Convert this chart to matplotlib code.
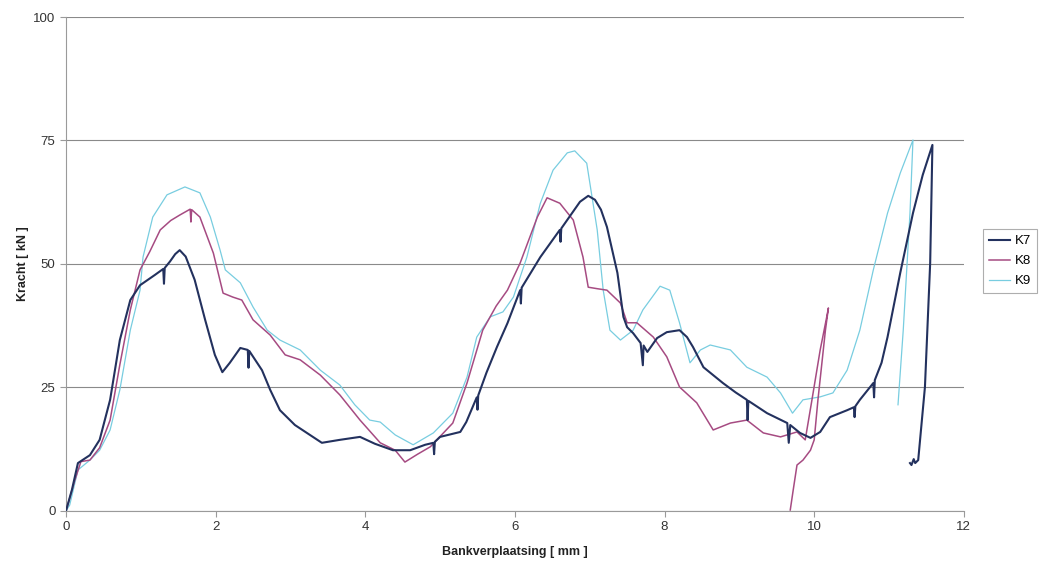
import matplotlib
matplotlib.use("Agg")
import matplotlib.pyplot as plt

# ---- data ----
k7_x = [0, 0.08, 0.16, 0.32, 0.45, 0.59, 0.72, 0.86, 0.99, 1.19, 1.30, 1.31, 1.32, 1.39, 1.46, 1.52,
        1.60, 1.72, 1.86, 1.99, 2.09, 2.19, 2.33, 2.43, 2.44, 2.45, 2.62, 2.73, 2.86, 3.06, 3.26,
        3.42, 3.66, 3.93, 4.13, 4.37, 4.60, 4.80, 4.91, 4.92, 4.93, 5.00, 5.27, 5.35, 5.49, 5.50,
        5.51, 5.62, 5.76, 5.90, 6.07, 6.08, 6.09, 6.34, 6.60, 6.61, 6.62, 6.87, 6.98, 7.07, 7.15,
        7.23, 7.37, 7.45, 7.50, 7.58, 7.68, 7.71, 7.72, 7.77, 7.90, 8.03, 8.20, 8.30, 8.38, 8.52,
        8.65, 8.78, 8.95, 9.10, 9.11, 9.12, 9.37, 9.64, 9.66, 9.68, 9.81, 9.95, 10.08, 10.21, 10.44,
        10.53, 10.54, 10.55, 10.61, 10.79, 10.80, 10.81, 10.90, 10.98, 11.15, 11.32, 11.45, 11.58,
        11.55, 11.48, 11.39, 11.35, 11.33, 11.30, 11.28]
k7_y = [0, 4.3, 9.7, 11.3, 14.4, 22.5, 34.6, 42.7, 45.7, 47.8, 49.0, 46.0, 49.2, 50.5, 52.0, 52.8,
        51.5, 46.8, 38.7, 31.6, 28.1, 30.0, 33.0, 32.6, 29.0, 32.4, 28.5, 24.5, 20.4, 17.4, 15.4,
        13.8, 14.4, 15.0, 13.6, 12.3, 12.3, 13.4, 13.8, 11.5, 14.0, 15.0, 16.0, 18.0, 23.0, 20.5,
        23.4, 28.0, 33.2, 38.0, 44.7, 42.0, 45.2, 51.4, 56.9, 54.5, 57.2, 62.6, 63.8, 63.0, 61.0,
        57.5, 48.2, 39.3, 37.2, 36.0, 34.0, 29.5, 33.5, 32.2, 35.0, 36.2, 36.6, 35.2, 33.2, 29.1,
        27.5, 25.9, 24.0, 22.5, 18.4, 22.3, 19.8, 17.8, 13.8, 17.4, 15.8, 14.8, 16.0, 19.0, 20.4,
        21.0, 19.0, 21.2, 22.5, 25.9, 23.0, 26.5, 30.0, 35.2, 48.2, 60.3, 68.0, 74.1,
        50.2, 25.1, 10.3, 9.7, 10.5, 9.3, 9.7]

k8_x = [0, 0.12, 0.20, 0.32, 0.45, 0.59, 0.72, 0.86, 0.99, 1.12, 1.26, 1.40, 1.52, 1.66, 1.67,
        1.68, 1.79, 1.97, 2.10, 2.23, 2.35, 2.50, 2.73, 2.93, 3.13, 3.40, 3.66, 3.93, 4.20, 4.40,
        4.53, 4.70, 4.87, 5.17, 5.36, 5.57, 5.75, 5.90, 6.07, 6.30, 6.43, 6.60, 6.78, 6.91, 6.98,
        7.10, 7.23, 7.41, 7.50, 7.63, 7.85, 8.03, 8.20, 8.43, 8.65, 8.88, 9.10, 9.32, 9.55, 9.77,
        9.88, 9.97, 10.08, 10.16, 10.19, 10.15, 10.05, 10.00, 9.95, 9.85, 9.77, 9.72, 9.68]
k8_y = [0, 6.3, 10.0, 10.3, 12.8, 18.4, 29.6, 40.7, 48.8, 52.5, 56.9, 58.8, 59.9, 61.1, 58.5,
        61.0, 59.5, 52.2, 44.1, 43.3, 42.7, 38.7, 35.6, 31.6, 30.6, 27.5, 23.5, 18.4, 13.8, 12.3,
        9.9, 11.5, 13.0, 17.8, 25.9, 36.6, 41.5, 44.7, 50.2, 59.5, 63.4, 62.3, 58.9, 51.4, 45.3,
        45.0, 44.7, 42.1, 38.1, 38.1, 35.2, 31.2, 25.1, 21.9, 16.4, 17.8, 18.4, 15.8, 15.0, 16.0,
        14.4, 22.5, 32.6, 38.7, 41.1, 36.6, 22.5, 14.4, 12.3, 10.3, 9.3, 4.3, 0.2]

k9_x = [0, 0.05, 0.16, 0.32, 0.45, 0.59, 0.72, 0.86, 0.99, 1.03, 1.16, 1.35, 1.59, 1.79, 1.93,
        2.06, 2.13, 2.33, 2.50, 2.69, 2.86, 3.13, 3.40, 3.66, 3.86, 4.06, 4.20, 4.40, 4.64, 4.91,
        5.17, 5.36, 5.49, 5.67, 5.84, 5.98, 6.16, 6.34, 6.51, 6.70, 6.80, 6.96, 7.10, 7.18, 7.27,
        7.41, 7.58, 7.71, 7.94, 8.07, 8.20, 8.34, 8.48, 8.61, 8.88, 9.10, 9.37, 9.55, 9.71, 9.85,
        10.08, 10.25, 10.44, 10.61, 10.79, 10.98, 11.15, 11.32, 11.28, 11.19, 11.12]
k9_y = [0, 1.2, 8.3, 10.3, 12.3, 16.4, 24.5, 36.6, 44.7, 51.4, 59.5, 64.0, 65.6, 64.4, 59.5,
        52.8, 48.8, 46.2, 41.3, 36.6, 34.6, 32.6, 28.5, 25.5, 21.5, 18.4, 18.0, 15.4, 13.4, 15.8,
        19.8, 27.1, 35.2, 39.3, 40.3, 43.3, 51.4, 62.3, 69.0, 72.5, 72.9, 70.4, 56.9, 44.7, 36.6,
        34.6, 36.6, 40.7, 45.5, 44.7, 38.1, 30.0, 32.6, 33.6, 32.6, 29.1, 27.1, 23.9, 19.8, 22.5,
        23.1, 23.9, 28.5, 36.6, 48.8, 60.3, 68.4, 75.1, 60.3, 36.6, 21.5]

series_names = ["K7", "K8", "K9"]
x_ticks = [0, 2, 4, 6, 8, 10, 12]
y_ticks = [0, 25, 50, 75, 100]

plt.rcParams['font.family'] = ['Liberation Sans', 'DejaVu Sans']

fig = plt.figure(figsize=(10.42, 5.63), dpi=100)
ax = fig.add_axes([0.0633, 0.0924, 0.8617, 0.8774])

l7, = ax.plot(k7_x, k7_y, color='#23315e', lw=1.5, label=series_names[0], zorder=4)
l8, = ax.plot(k8_x, k8_y, color='#a64b82', lw=1.1, label=series_names[1], zorder=3)
l9, = ax.plot(k9_x, k9_y, color='#78cde0', lw=0.9, label=series_names[2], zorder=2)

ax.set_xlim(0, 12)
ax.set_ylim(0, 100)
ax.set_xticks(x_ticks)
ax.set_yticks(y_ticks)
ax.yaxis.grid(True, color='#8a8a8a', lw=0.8)
ax.set_axisbelow(True)
for s in ['top', 'right']:
    ax.spines[s].set_visible(False)
for s in ['left', 'bottom']:
    ax.spines[s].set_color('#9a9a9a')
    ax.spines[s].set_linewidth(0.8)
ax.tick_params(axis='both', colors='#9a9a9a', labelcolor='#333333', labelsize=9.5, length=4, width=0.8)

ax.set_xlabel("Bankverplaatsing [ mm ]", fontsize=9, fontweight='bold', color='#222222', labelpad=9)
ax.set_ylabel("Kracht [ kN ]", fontsize=9, fontweight='bold', color='#222222', labelpad=3)

leg = fig.legend(handles=[l7, l8, l9], loc='upper left', bbox_to_anchor=(983 / 1042, 1 - 229 / 563),
                 fontsize=9.5, frameon=True, fancybox=False, edgecolor='#9a9a9a',
                 handlelength=1.6, borderpad=0.45, labelspacing=0.6, handletextpad=0.35,
                 borderaxespad=0.0)
leg.get_frame().set_linewidth(0.8)

fig.savefig("out.png", dpi=100)
